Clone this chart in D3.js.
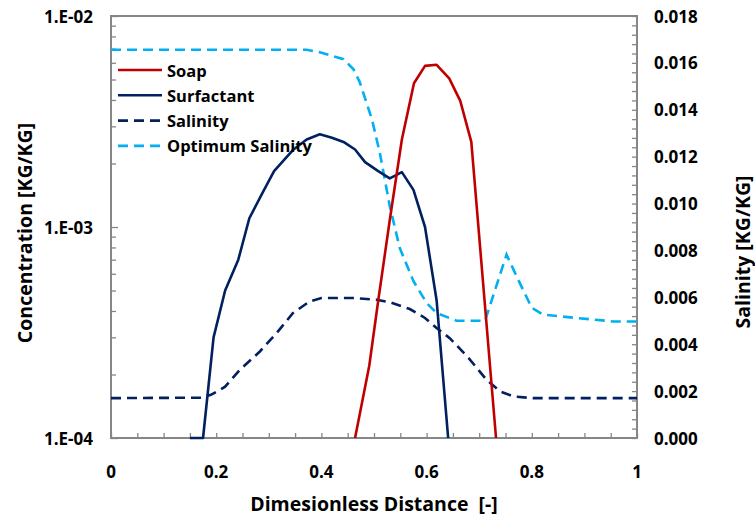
<!DOCTYPE html>
<html>
<head>
<meta charset="utf-8">
<script src="https://cdn.jsdelivr.net/npm/d3@7"></script>
<style>
  html, body { margin: 0; padding: 0; background: #fff; }
  svg { display: block; }
  text { font-family: "Open Sans", Lato, sans-serif; font-weight: bold; fill: #000; white-space: pre; }
</style>
</head>
<body>
<svg id="chart" width="755" height="520"></svg>
<script>
// Dimensionless distance / concentration profiles
const soapDistance = [0.464, 0.491, 0.508, 0.530, 0.553, 0.576, 0.597, 0.619, 0.643, 0.664, 0.685, 0.732];
const soapConc     = [1.0e-4, 2.2e-4, 4.47e-4, 1.08e-3, 2.6e-3, 4.8e-3, 5.8e-3, 5.87e-3, 5.06e-3, 3.96e-3, 2.53e-3, 1.0e-4];

const surfDistance = [0.150, 0.175, 0.195, 0.217, 0.242, 0.263, 0.288, 0.310, 0.347, 0.372, 0.397, 0.420, 0.442, 0.464, 0.483, 0.508, 0.530, 0.553, 0.575, 0.597, 0.619, 0.641];
const surfConc     = [1.0e-4, 1.0e-4, 3.0e-4, 5.0e-4, 7.0e-4, 1.1e-3, 1.45e-3, 1.84e-3, 2.33e-3, 2.6e-3, 2.75e-3, 2.65e-3, 2.53e-3, 2.33e-3, 2.03e-3, 1.84e-3, 1.7e-3, 1.82e-3, 1.5e-3, 1.0e-3, 4.5e-4, 1.0e-4];

const salDistance = [0, 0.169, 0.19, 0.217, 0.245, 0.283, 0.315, 0.346, 0.378, 0.40, 0.46, 0.505, 0.53, 0.568, 0.597, 0.619, 0.644, 0.68, 0.714, 0.74, 0.765, 0.803, 1.0];
const salinity    = [0.0017, 0.00172, 0.00184, 0.00219, 0.00291, 0.00369, 0.00448, 0.00533, 0.00583, 0.00597, 0.00597, 0.0059, 0.00579, 0.0055, 0.00512, 0.00469, 0.00426, 0.00341, 0.00248, 0.00198, 0.00177, 0.0017, 0.0017];

const optDistance = [0, 0.372, 0.397, 0.442, 0.461, 0.473, 0.496, 0.511, 0.530, 0.549, 0.575, 0.600, 0.619, 0.657, 0.711, 0.752, 0.771, 0.800, 0.822, 0.885, 0.955, 1.0];
const optSalinity = [0.01656, 0.01656, 0.01645, 0.01616, 0.01573, 0.01517, 0.0136, 0.01217, 0.00989, 0.0081, 0.00669, 0.00576, 0.00533, 0.0050, 0.0050, 0.00782, 0.0069, 0.00555, 0.00526, 0.00512, 0.00497, 0.00497];

const xTickLabels = ["0", "0.2", "0.4", "0.6", "0.8", "1"];
const xTickValues = [0, 0.2, 0.4, 0.6, 0.8, 1];
const concTickLabels = ["1.E-04", "1.E-03", "1.E-02"];
const concTickValues = [1e-4, 1e-3, 1e-2];
const salTickLabels = ["0.000", "0.002", "0.004", "0.006", "0.008", "0.010", "0.012", "0.014", "0.016", "0.018"];

const seriesNames = ["Soap", "Surfactant", "Salinity", "Optimum Salinity"];

const colors = { soap: "#C00000", surf: "#002060", sal: "#002060", opt: "#00B0F0" };

const svg = d3.select("#chart");
const L = 111, R = 637, T = 16, B = 438;

const x = d3.scaleLinear().domain([0, 1]).range([L, R]);
const yConc = d3.scaleLog().domain([1e-4, 1e-2]).range([B, T]);
const ySal = d3.scaleLinear().domain([0, 0.018]).range([B, T]);

const axisColor = "#868686";

// minor / major ticks, pointing inward
const xTickAll = d3.range(0, 21).map(i => i * 0.05);
svg.append("g")
  .attr("transform", `translate(0,${B})`)
  .call(d3.axisBottom(x).tickValues(xTickAll).tickSize(-5).tickFormat("").tickSizeOuter(0))
  .call(g => g.select(".domain").remove())
  .call(g => g.selectAll("line").attr("stroke", axisColor).attr("stroke-width", 1.3));

const logMinor = [];
[1e-4, 1e-3].forEach(d => { for (let k = 2; k <= 9; k++) logMinor.push(d * k); });
svg.append("g")
  .attr("transform", `translate(${L},0)`)
  .call(d3.axisLeft(yConc).tickValues(logMinor).tickSize(-5).tickFormat("").tickSizeOuter(0))
  .call(g => g.select(".domain").remove())
  .call(g => g.selectAll("line").attr("stroke", axisColor).attr("stroke-width", 1.3));
svg.append("g")
  .attr("transform", `translate(${L},0)`)
  .call(d3.axisLeft(yConc).tickValues(concTickValues).tickSize(-7).tickFormat("").tickSizeOuter(0))
  .call(g => g.select(".domain").remove())
  .call(g => g.selectAll("line").attr("stroke", axisColor).attr("stroke-width", 1.3));

const salMinor = d3.range(0, 46).map(i => i * 0.0004);
svg.append("g")
  .attr("transform", `translate(${R},0)`)
  .call(d3.axisRight(ySal).tickValues(salMinor).tickSize(-5).tickFormat("").tickSizeOuter(0))
  .call(g => g.select(".domain").remove())
  .call(g => g.selectAll("line").attr("stroke", axisColor).attr("stroke-width", 1.3));

// plot frame
svg.append("rect")
  .attr("x", L).attr("y", T).attr("width", R - L).attr("height", B - T)
  .attr("fill", "none").attr("stroke", axisColor).attr("stroke-width", 2);

// tick labels
const tickFont = 17;
svg.append("g").selectAll("text").data(xTickValues).join("text")
  .attr("x", d => x(d)).attr("y", 471)
  .attr("text-anchor", "middle").attr("dominant-baseline", "central")
  .attr("font-size", tickFont)
  .text((d, i) => xTickLabels[i]);

svg.append("g").selectAll("text").data(concTickValues).join("text")
  .attr("x", 93).attr("y", d => yConc(d))
  .attr("text-anchor", "end").attr("dominant-baseline", "central")
  .attr("font-size", tickFont)
  .text((d, i) => concTickLabels[i]);

svg.append("g").selectAll("text").data(salTickLabels).join("text")
  .attr("x", 654).attr("y", (d, i) => ySal(i * 0.002))
  .attr("text-anchor", "start").attr("dominant-baseline", "central")
  .attr("font-size", tickFont)
  .text(d => d);

// axis titles
svg.append("text")
  .attr("x", (L + R) / 2).attr("y", 503)
  .attr("text-anchor", "middle").attr("dominant-baseline", "central")
  .attr("font-size", 19.5)
  .text("Dimesionless Distance  [-]");

svg.append("text")
  .attr("transform", `translate(24,233) rotate(-90)`)
  .attr("text-anchor", "middle").attr("dominant-baseline", "central")
  .attr("font-size", 19.5)
  .text("Concentration [KG/KG]");

svg.append("text")
  .attr("transform", `translate(742,252) rotate(-90)`)
  .attr("text-anchor", "middle").attr("dominant-baseline", "central")
  .attr("font-size", 19.5)
  .text("Salinity [KG/KG]");

// series lines
const plot = svg.append("g");
const lineConc = d3.line().x(d => x(d[0])).y(d => yConc(d[1]));
const lineSal = d3.line().x(d => x(d[0])).y(d => ySal(d[1]));
const dash = "10,6";

plot.append("path")
  .datum(d3.zip(salDistance, salinity))
  .attr("d", lineSal).attr("fill", "none")
  .attr("stroke", colors.sal).attr("stroke-width", 2.6).attr("stroke-dasharray", dash);

plot.append("path")
  .datum(d3.zip(optDistance, optSalinity))
  .attr("d", lineSal).attr("fill", "none")
  .attr("stroke", colors.opt).attr("stroke-width", 2.6).attr("stroke-dasharray", dash);

plot.append("path")
  .datum(d3.zip(surfDistance, surfConc))
  .attr("d", lineConc).attr("fill", "none")
  .attr("stroke", colors.surf).attr("stroke-width", 2.6).attr("stroke-linejoin", "round");

plot.append("path")
  .datum(d3.zip(soapDistance, soapConc))
  .attr("d", lineConc).attr("fill", "none")
  .attr("stroke", colors.soap).attr("stroke-width", 2.6).attr("stroke-linejoin", "round");

// legend
const legendStyles = [
  { color: colors.soap, dash: null },
  { color: colors.surf, dash: null },
  { color: colors.sal, dash: dash },
  { color: colors.opt, dash: dash }
];
const legend = svg.append("g");
seriesNames.forEach((name, i) => {
  const yy = 70 + i * 25.3;
  legend.append("line")
    .attr("x1", 118).attr("x2", 162).attr("y1", yy).attr("y2", yy)
    .attr("stroke", legendStyles[i].color).attr("stroke-width", 2.6)
    .attr("stroke-dasharray", legendStyles[i].dash);
  legend.append("text")
    .attr("x", 167).attr("y", yy)
    .attr("dominant-baseline", "central")
    .attr("font-size", 16.5)
    .text(name);
});
</script>
</body>
</html>
